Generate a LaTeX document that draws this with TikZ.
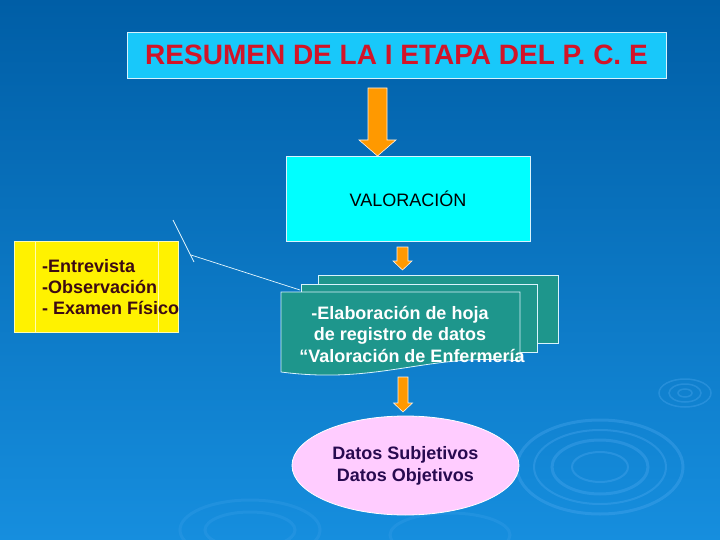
\documentclass[tikz,border=0pt]{standalone}
\usepackage{fontspec}
\setmainfont{Liberation Sans}
\usetikzlibrary{shapes.geometric}
\definecolor{bgtop}{RGB}{0,94,166}
\definecolor{bgbot}{RGB}{22,142,222}
\definecolor{titlefill}{RGB}{24,200,250}
\definecolor{titlered}{RGB}{210,20,40}
\definecolor{valfill}{RGB}{0,255,255}
\definecolor{arroworange}{RGB}{255,153,0}
\definecolor{docfill}{RGB}{30,150,140}
\definecolor{yellowtext}{RGB}{60,10,20}
\definecolor{pinkfill}{RGB}{255,204,255}
\definecolor{purpletext}{RGB}{40,10,80}
\definecolor{ripple}{RGB}{80,170,240}
\tikzset{
  boxline/.style={draw=white!85!cyan, line width=0.8pt},
  blockarrow/.style={fill=arroworange, draw=white!90!orange, line width=0.6pt},
  docpage/.style={fill=docfill, draw=white!85!cyan, line width=0.8pt},
  ripplering/.style={draw=ripple, opacity=0.35, line width=3pt},
  callout/.style={draw=white!90!cyan, line width=0.7pt},
}
\newcommand{\myblockarrow}[6]{% x, top, headstart, tip, halfshaft, halfhead
  \path[blockarrow] (#1-#5,#2) -- (#1+#5,#2) -- (#1+#5,#3) -- (#1+#6,#3) -- (#1,#4)
    -- (#1-#6,#3) -- (#1-#5,#3) -- cycle;}
\begin{document}
\begin{tikzpicture}[x=1pt,y=-1pt]
\useasboundingbox (0,0) rectangle (720,540);
\shade[top color=bgtop, bottom color=bgbot] (0,0) rectangle (720,540);
% ripples
\begin{scope}
\draw[ripplering] (600,467) ellipse [x radius=83, y radius=47];
\draw[ripplering, line width=2pt] (600,467) ellipse [x radius=66, y radius=37];
\draw[ripplering] (600,467) ellipse [x radius=48, y radius=27];
\draw[ripplering, line width=2pt] (600,467) ellipse [x radius=28, y radius=15];
\draw[ripplering, line width=1.5pt] (685,393) ellipse [x radius=26, y radius=14];
\draw[ripplering, line width=1.5pt] (685,393) ellipse [x radius=16, y radius=9];
\draw[ripplering, line width=1.5pt] (685,393) ellipse [x radius=7, y radius=4];
\draw[ripplering, opacity=0.2] (250,530) ellipse [x radius=70, y radius=30];
\draw[ripplering, opacity=0.2] (250,530) ellipse [x radius=45, y radius=18];
\draw[ripplering, opacity=0.2] (450,535) ellipse [x radius=60, y radius=22];
\end{scope}
% title
\node[boxline, fill=titlefill, minimum width=539pt, minimum height=46pt, inner sep=0pt,
  font=\fontsize{28}{32}\selectfont\bfseries, text=titlered] (title) at (396.5,55)
  {RESUMEN DE LA I ETAPA DEL P. C. E};
% arrow 1
\myblockarrow{377.5}{88}{140}{156}{9.5}{18.5}
% valoracion
\node[boxline, fill=valfill, minimum width=244pt, minimum height=85pt, inner sep=0pt,
  font=\fontsize{18}{21}\selectfont] (val) at (408,198.5) {};
\node[font=\fontsize{18}{21}\selectfont, inner sep=0pt] (valtext) at (408,199) {VALORACIÓN};
% arrow 2
\myblockarrow{402.5}{247}{261}{270}{5.5}{9.5}
% multi document
\path[docpage] (318,275) rectangle (558,343);
\path[docpage] (301,284) rectangle (537,352);
\path[docpage] (281,292) -- (520,292) -- (520,361)
  .. controls (430,352) and (380,385) .. (281,372) -- cycle;
\node[text=white, font=\fontsize{18}{21.5}\selectfont\bfseries, align=center, inner sep=0pt]
  (doc) at (400,334) {-Elaboración de hoja\\de registro de datos\\\hspace*{24pt}“Valoración de Enfermería};
\coordinate (docin) at (300,290);
% yellow box
\node[draw=white!70!yellow, line width=0.6pt, fill=yellow, minimum width=164pt, minimum height=91pt,
  inner sep=0pt] (yel) at (96,286.5) {};
\draw[white!70!yellow, line width=0.6pt] (35,241) -- (35,332) (158,241) -- (158,332);
\node[text=yellowtext, font=\fontsize{18}{21}\selectfont\bfseries, align=left, anchor=west,
  inner sep=0pt] (yeltext) at (42,287) {-Entrevista\\-Observación\\- Examen Físico};
% callout
\coordinate (ca) at (173,220);
\coordinate (cb) at (194,262);
\coordinate (cc) at (191,255);
\draw[callout] (ca) -- (cb);
\draw[callout] (cc) -- (docin);
% arrow 3
\myblockarrow{403}{377}{403}{412}{5}{9.5}
% ellipse
\node[ellipse, draw=white, line width=0.8pt, fill=pinkfill, minimum width=227pt, minimum height=99pt,
  inner sep=0pt, text=purpletext, font=\fontsize{18}{22}\selectfont\bfseries, align=center]
  (dat) at (405.5,465.5) {Datos Subjetivos\\Datos Objetivos};
\end{tikzpicture}
\end{document}
